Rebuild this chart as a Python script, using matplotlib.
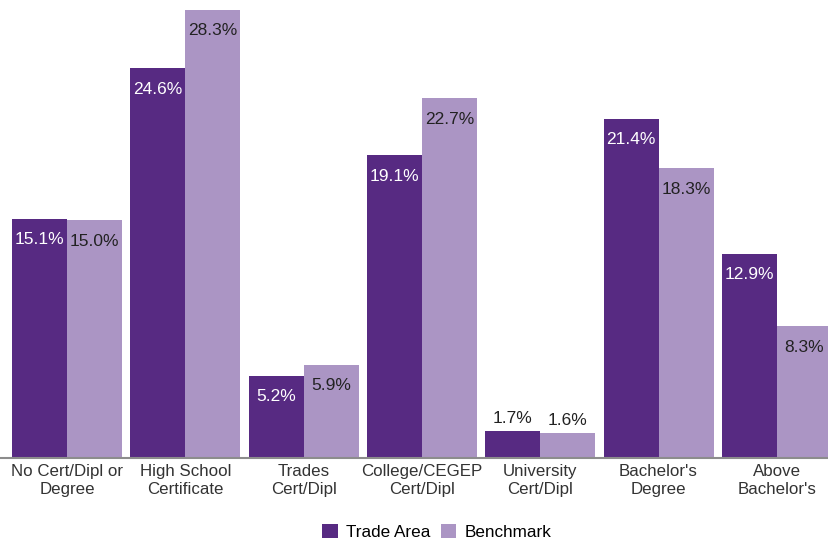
import matplotlib.pyplot as plt
import numpy as np

plt.rcParams['font.family'] = ['Liberation Sans', 'DejaVu Sans']

categories = ["No Cert/Dipl or\nDegree", "High School\nCertificate", "Trades\nCert/Dipl",
              "College/CEGEP\nCert/Dipl", "University\nCert/Dipl", "Bachelor's\nDegree",
              "Above\nBachelor's"]
trade_area = [15.1, 24.6, 5.2, 19.1, 1.7, 21.4, 12.9]
benchmark = [15.0, 28.3, 5.9, 22.7, 1.6, 18.3, 8.3]

dark = '#572a82'
light = '#ab95c4'

fig = plt.figure(figsize=(8.29, 5.42), dpi=100)
ax = fig.add_axes([0, (542 - 458) / 542, 1, 450 / 542])

x = np.arange(len(categories))
w = 0.465
b1 = ax.bar(x - w / 2, trade_area, w, color=dark, label='Trade Area')
b2 = ax.bar(x + w / 2, benchmark, w, color=light, label='Benchmark')

ax.set_xlim(-0.566, 6.441)
ax.set_ylim(0, 28.4)

fs = 12.5
for xi, v in zip(x, trade_area):
    if v > 3:
        ax.text(xi - w / 2, v - 0.85, f'{v:.1f}%', ha='center', va='top', color='white', fontsize=fs)
    else:
        ax.text(xi - w / 2, v + 0.3, f'{v:.1f}%', ha='center', va='bottom', color='#222222', fontsize=fs)
for xi, v in zip(x, benchmark):
    if v > 3:
        ax.text(xi + w / 2, v - 0.85, f'{v:.1f}%', ha='center', va='top', color='#222222', fontsize=fs)
    else:
        ax.text(xi + w / 2, v + 0.3, f'{v:.1f}%', ha='center', va='bottom', color='#222222', fontsize=fs)

for s in ['top', 'right', 'left']:
    ax.spines[s].set_visible(False)
ax.spines['bottom'].set_color('#8c8c8c')
ax.spines['bottom'].set_linewidth(1.5)
ax.set_yticks([])
ax.set_xticks(x)
ax.set_xticklabels(categories, fontsize=12.2, color='#333333', linespacing=1.3)
ax.tick_params(axis='x', length=0, pad=4)

fig.legend(handles=[b1, b2], loc='center', bbox_to_anchor=(437 / 829, 1 - 532 / 542),
           ncol=2, frameon=False, fontsize=12.3, handlelength=0.9, handleheight=0.9,
           handletextpad=0.5, columnspacing=0.6)

fig.savefig('out.png', dpi=100)
